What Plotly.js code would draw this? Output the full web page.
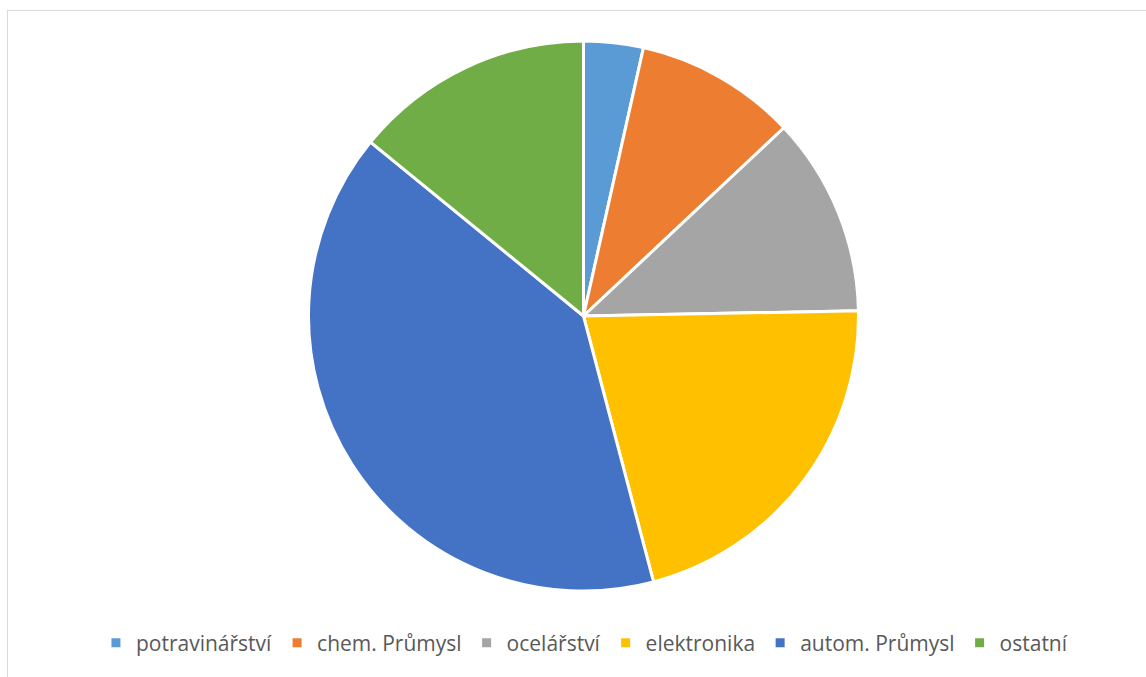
<!DOCTYPE html>
<html>
<head>
<meta charset="utf-8">
<script src="https://cdn.plot.ly/plotly-3.0.1.min.js"></script>
<style>
  html, body { margin: 0; padding: 0; background: #ffffff; }
  #frame { position: absolute; left: 7px; top: 10px; width: 1200px; height: 700px;
           border-left: 1.5px solid #d9d9d9; border-top: 1.5px solid #d9d9d9; }
  #chart { position: absolute; left: 0; top: 0; width: 1146px; height: 677px; }
</style>
</head>
<body>
<div id="frame"></div>
<div id="chart"></div>
<script>
const categories = ["potravinářství", "chem. Průmysl", "ocelářství", "elektronika", "autom. Průmysl", "ostatní"];
const values = [3.5, 9.5, 11.7, 21.2, 40.0, 14.1];
const colors = ["#5B9BD5", "#ED7D31", "#A5A5A5", "#FFC000", "#4472C4", "#70AD47"];

const W = 1146, H = 677;
const cx = 583.5, cy = 316, r = 275;

const data = [{
  type: "pie",
  labels: categories,
  values: values,
  sort: false,
  direction: "clockwise",
  rotation: 0,
  textinfo: "none",
  hoverinfo: "label+value+percent",
  marker: { colors: colors, line: { color: "#ffffff", width: 3 } },
  domain: { x: [(cx - r) / W, (cx + r) / W], y: [1 - (cy + r) / H, 1 - (cy - r) / H] }
}];

const layout = {
  width: W, height: H,
  margin: { l: 0, r: 0, t: 0, b: 0 },
  paper_bgcolor: "rgba(0,0,0,0)",
  plot_bgcolor: "rgba(0,0,0,0)",
  showlegend: true,
  legend: {
    orientation: "h",
    x: 0.51, xanchor: "center",
    y: 1 - 643 / H, yanchor: "middle",
    font: { family: "'Open Sans', sans-serif", size: 21, color: "#595959" },
    traceorder: "normal"
  },
  font: { family: "'Open Sans', sans-serif" }
};

Plotly.newPlot("chart", data, layout, { displayModeBar: false });
</script>
</body>
</html>
